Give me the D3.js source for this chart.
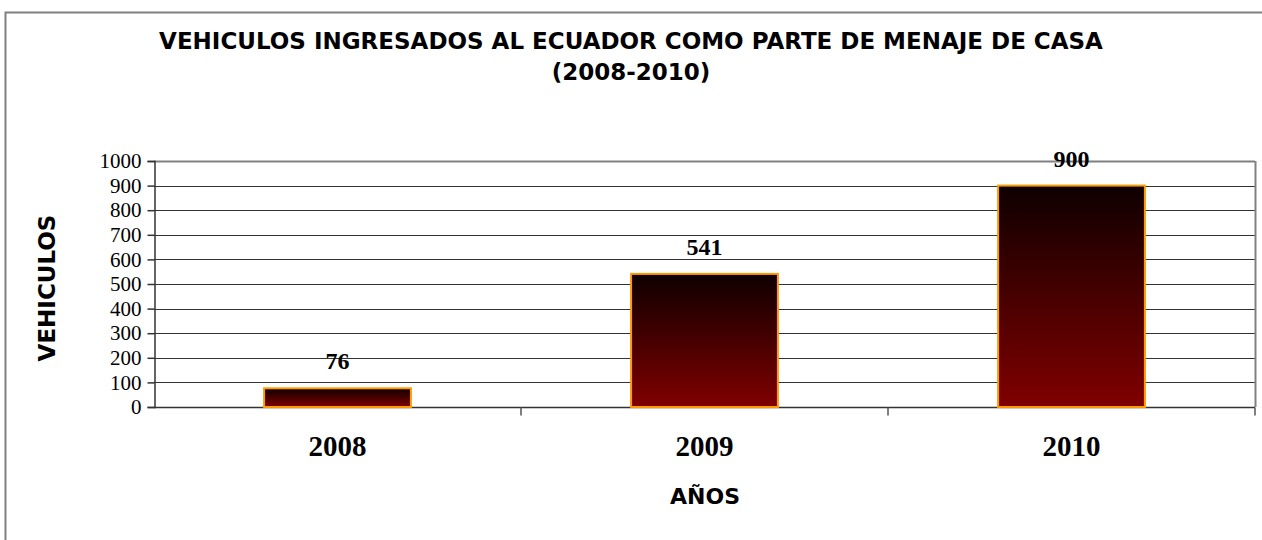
<!DOCTYPE html>
<html>
<head>
<meta charset="utf-8">
<script src="https://d3js.org/d3.v7.min.js"></script>
<style>
body { margin:0; background:#fff; }
svg text { fill:#000; }
</style>
</head>
<body>
<svg id="chart"></svg>
<script>
// data
var years = ['2008', '2009', '2010'];
var vehiculos = [76, 541, 900];
var yTicks = [0, 100, 200, 300, 400, 500, 600, 700, 800, 900, 1000];

var vWidth = 1262, vHeight = 540;
var plot = { left: 154, right: 1255, top: 161, bottom: 407 };

var svg = d3.select('#chart')
    .attr('width', vWidth)
    .attr('height', vHeight);

// outer chart frame (runs off right and bottom)
svg.append('rect')
    .attr('x', 5.5).attr('y', 12.5)
    .attr('width', 1300).attr('height', 600)
    .style('fill', 'none').style('stroke', '#808080').style('stroke-width', 2);

var defs = svg.append('defs');
var grad = defs.append('linearGradient')
    .attr('id', 'barGrad')
    .attr('x1', 0).attr('y1', 0).attr('x2', 0).attr('y2', 1);
grad.append('stop').attr('offset', '0%').attr('stop-color', '#0e0000');
grad.append('stop').attr('offset', '100%').attr('stop-color', '#800000');

var x = d3.scaleBand()
    .domain(years)
    .range([plot.left, plot.right])
    .paddingInner(0.6)
    .paddingOuter(0.3);

var xOuter = d3.scaleBand()
    .domain(years)
    .range([plot.left, plot.right]);

var y = d3.scaleLinear()
    .domain([0, 1000])
    .range([plot.bottom, plot.top]);

// gridlines
svg.append('g').selectAll('line')
    .data(yTicks.filter(function (d) { return d > 0; }))
    .enter().append('line')
    .attr('x1', plot.left).attr('x2', plot.right)
    .attr('y1', function (d) { return Math.round(y(d)) + 0.5; })
    .attr('y2', function (d) { return Math.round(y(d)) + 0.5; })
    .style('stroke', function (d) { return d === 1000 ? '#808080' : '#333'; })
    .style('stroke-width', function (d) { return d === 1000 ? 2 : 1; });

// right border of plot area
svg.append('line')
    .attr('x1', plot.right + 0.5).attr('x2', plot.right + 0.5)
    .attr('y1', plot.top).attr('y2', plot.bottom)
    .style('stroke', '#808080').style('stroke-width', 2);

// y axis
var yAxis = svg.append('g')
    .attr('transform', 'translate(' + (plot.left + 0.5) + ',0)')
    .call(d3.axisLeft(y).tickValues(yTicks).tickFormat(d3.format('d')).tickSize(7).tickPadding(6));
yAxis.selectAll('text')
    .style('font-family', '"Liberation Serif", "Times New Roman", serif')
    .style('font-size', '21px');
yAxis.selectAll('line, path').style('stroke', '#333').style('stroke-width', 1.5);

// x axis with ticks at category boundaries
var xAxis = svg.append('g')
    .attr('transform', 'translate(0,' + (plot.bottom + 0.5) + ')');
xAxis.append('line')
    .attr('x1', plot.left).attr('x2', plot.right)
    .style('stroke', '#333').style('stroke-width', 1.5);
xAxis.selectAll('line.tick')
    .data(years)
    .enter().append('line')
    .attr('class', 'tick')
    .attr('x1', function (d) { return xOuter(d) + xOuter.bandwidth(); })
    .attr('x2', function (d) { return xOuter(d) + xOuter.bandwidth(); })
    .attr('y1', 0).attr('y2', 8)
    .style('stroke', '#555').style('stroke-width', 1.5);
xAxis.selectAll('text')
    .data(years)
    .enter().append('text')
    .attr('x', function (d) { return xOuter(d) + xOuter.bandwidth() / 2; })
    .attr('y', 48)
    .attr('text-anchor', 'middle')
    .style('font-family', '"Liberation Serif", "Times New Roman", serif')
    .style('font-weight', 'bold')
    .style('font-size', '29px')
    .text(function (d) { return d; });

// bars
svg.append('g').selectAll('rect')
    .data(vehiculos)
    .enter().append('rect')
    .attr('x', function (d, i) { return x(years[i]); })
    .attr('y', function (d) { return y(d); })
    .attr('width', x.bandwidth())
    .attr('height', function (d) { return y(0) - y(d); })
    .style('fill', 'url(#barGrad)')
    .style('stroke', '#ff9900')
    .style('stroke-width', 2);

// value labels
svg.append('g').selectAll('text')
    .data(vehiculos)
    .enter().append('text')
    .attr('x', function (d, i) { return x(years[i]) + x.bandwidth() / 2; })
    .attr('y', function (d) { return y(d) - 19; })
    .attr('text-anchor', 'middle')
    .style('font-family', '"Liberation Serif", "Times New Roman", serif')
    .style('font-weight', 'bold')
    .style('font-size', '24px')
    .text(function (d) { return d; });

// titles
var sans = '"DejaVu Sans", Verdana, Tahoma, sans-serif';
svg.append('text')
    .attr('x', 631).attr('y', 49)
    .attr('text-anchor', 'middle')
    .style('font-family', sans).style('font-weight', 'bold').style('font-size', '23px')
    .text('VEHICULOS INGRESADOS AL ECUADOR COMO PARTE DE MENAJE DE CASA');
svg.append('text')
    .attr('x', 631).attr('y', 80)
    .attr('text-anchor', 'middle')
    .style('font-family', sans).style('font-weight', 'bold').style('font-size', '23px')
    .text('(2008-2010)');

svg.append('text')
    .attr('x', 705).attr('y', 504)
    .attr('text-anchor', 'middle')
    .style('font-family', sans).style('font-weight', 'bold').style('font-size', '22px')
    .text('AÑOS');

svg.append('text')
    .attr('transform', 'translate(55,288) rotate(-90)')
    .attr('text-anchor', 'middle')
    .style('font-family', sans).style('font-weight', 'bold').style('font-size', '23px')
    .text('VEHICULOS');
</script>
</body>
</html>
